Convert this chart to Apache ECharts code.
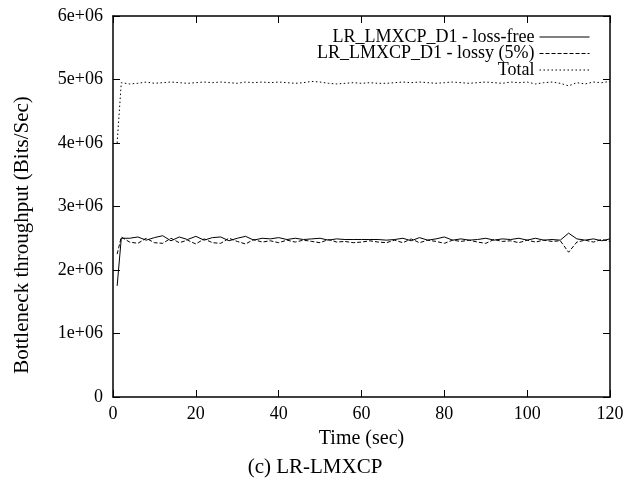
<!DOCTYPE html>
<html>
<head>
<meta charset="utf-8">
<script src="https://cdn.jsdelivr.net/npm/echarts@6/dist/echarts.min.js"></script>
<style>
  html, body { margin: 0; padding: 0; background: #fff; }
  #main { width: 630px; height: 484px; }
</style>
</head>
<body>
<div id="main"></div>
<script>
// time in seconds
var times = [1, 2, 4, 6, 8, 10, 12, 14, 16, 18, 20, 22,
    24, 26, 28, 30, 32, 34, 36, 38, 40, 42,
    44, 46, 48, 50, 52, 54, 56, 58, 60, 62,
    64, 66, 68, 70, 72, 74, 76, 78, 80, 82,
    84, 86, 88, 90, 92, 94, 96, 98, 100, 102,
    104, 106, 108, 110, 112, 114, 116, 118, 120];

// throughput in bits/sec
var lossFree = [1750000, 2500000, 2500000, 2520000, 2470000, 2510000, 2540000, 2460000, 2520000, 2480000, 2530000, 2470000,
    2510000, 2520000, 2460000, 2500000, 2530000, 2470000, 2500000, 2490000, 2510000, 2480000,
    2500000, 2480000, 2490000, 2500000, 2470000, 2490000, 2480000, 2480000, 2480000, 2480000,
    2480000, 2470000, 2480000, 2500000, 2460000, 2510000, 2470000, 2490000, 2520000, 2470000,
    2490000, 2470000, 2480000, 2500000, 2470000, 2490000, 2480000, 2500000, 2470000, 2500000,
    2470000, 2480000, 2470000, 2580000, 2490000, 2470000, 2490000, 2460000, 2490000];

var lossy = [2250000, 2520000, 2440000, 2420000, 2500000, 2430000, 2420000, 2500000, 2430000, 2470000, 2410000, 2490000,
    2430000, 2420000, 2500000, 2450000, 2410000, 2480000, 2440000, 2460000, 2430000, 2470000,
    2440000, 2470000, 2450000, 2430000, 2480000, 2440000, 2450000, 2430000, 2440000, 2460000,
    2440000, 2430000, 2470000, 2430000, 2490000, 2430000, 2470000, 2450000, 2420000, 2470000,
    2450000, 2470000, 2440000, 2420000, 2480000, 2450000, 2460000, 2430000, 2470000, 2440000,
    2470000, 2450000, 2460000, 2280000, 2440000, 2470000, 2440000, 2480000, 2450000];

var total = [4000000, 4950000, 4930000, 4940000, 4960000, 4940000, 4950000, 4960000, 4950000, 4940000, 4950000, 4960000,
    4950000, 4960000, 4950000, 4940000, 4960000, 4950000, 4960000, 4950000, 4960000, 4950000,
    4940000, 4950000, 4970000, 4960000, 4940000, 4930000, 4940000, 4950000, 4940000, 4950000,
    4940000, 4940000, 4950000, 4960000, 4950000, 4960000, 4950000, 4940000, 4950000, 4960000,
    4950000, 4940000, 4950000, 4960000, 4950000, 4940000, 4960000, 4950000, 4960000, 4930000,
    4950000, 4960000, 4940000, 4900000, 4950000, 4930000, 4960000, 4950000, 4970000];

var seriesNames = ['LR_LMXCP_D1 - loss-free', 'LR_LMXCP_D1 - lossy (5%)', 'Total'];

var pairs = function (ys) {
    return times.map(function (t, i) { return [t, ys[i]]; });
};

var fontFam = '"Liberation Serif", "DejaVu Serif", serif';

var yLabel = function (v) {
    return v === 0 ? '0' : (v / 1000000) + 'e+06';
};

var frameAxis = {
    axisLine: { show: true, onZero: false, lineStyle: { color: '#000', width: 1.5 } },
    axisTick: { show: true, inside: true, length: 7, lineStyle: { color: '#000', width: 1 } },
    splitLine: { show: false }
};

var option = {
    animation: false,
    backgroundColor: '#fff',
    textStyle: { fontFamily: fontFam, color: '#000' },
    grid: { left: 113, right: 20, top: 16, bottom: 87 },
    title: {
        text: '(c) LR-LMXCP',
        left: 'center',
        top: 452,
        textStyle: { fontFamily: fontFam, fontSize: 21, fontWeight: 'normal', color: '#000' }
    },
    graphic: [{
        type: 'text',
        x: 22,
        y: 235,
        rotation: Math.PI / 2,
        style: {
            text: 'Bottleneck throughput (Bits/Sec)',
            fontFamily: fontFam,
            fontSize: 21,
            fill: '#000',
            align: 'center',
            verticalAlign: 'middle'
        }
    }],
    legend: {
        data: seriesNames,
        orient: 'vertical',
        right: 35,
        top: 23,
        align: 'right',
        itemWidth: 50,
        itemHeight: 10,
        itemGap: -1.5,
        itemStyle: { color: 'rgba(0,0,0,0)', borderWidth: 0 },
        lineStyle: { width: 1 },
        textStyle: { fontFamily: fontFam, fontSize: 18, color: '#000' }
    },
    xAxis: [Object.assign({
        type: 'value',
        min: 0, max: 120, interval: 20,
        name: 'Time (sec)',
        nameLocation: 'middle',
        nameGap: 32,
        nameTextStyle: { fontFamily: fontFam, fontSize: 20, color: '#000' },
        axisLabel: { fontFamily: fontFam, fontSize: 18, color: '#000', margin: 8 }
    }, frameAxis), Object.assign({
        type: 'value',
        position: 'top',
        min: 0, max: 120, interval: 20,
        axisLabel: { show: false }
    }, frameAxis)],
    yAxis: [Object.assign({
        type: 'value',
        min: 0, max: 6000000, interval: 1000000,
        axisLabel: { fontFamily: fontFam, fontSize: 18, color: '#000', margin: 10, formatter: yLabel }
    }, frameAxis), Object.assign({
        type: 'value',
        position: 'right',
        min: 0, max: 6000000, interval: 1000000,
        axisLabel: { show: false }
    }, frameAxis)],
    series: [{
        name: seriesNames[0],
        type: 'line',
        data: pairs(lossFree),
        symbol: 'none',
        lineStyle: { color: '#000', width: 1, type: 'solid' },
        itemStyle: { color: '#000' }
    }, {
        name: seriesNames[1],
        type: 'line',
        data: pairs(lossy),
        symbol: 'none',
        lineStyle: { color: '#000', width: 1, type: [4, 2] },
        itemStyle: { color: '#000' }
    }, {
        name: seriesNames[2],
        type: 'line',
        data: pairs(total),
        symbol: 'none',
        lineStyle: { color: '#000', width: 1, type: [1.5, 2.5] },
        itemStyle: { color: '#000' }
    }]
};

var chart = echarts.init(document.getElementById('main'));
chart.setOption(option);
window.addEventListener('resize', chart.resize);
</script>
</body>
</html>
